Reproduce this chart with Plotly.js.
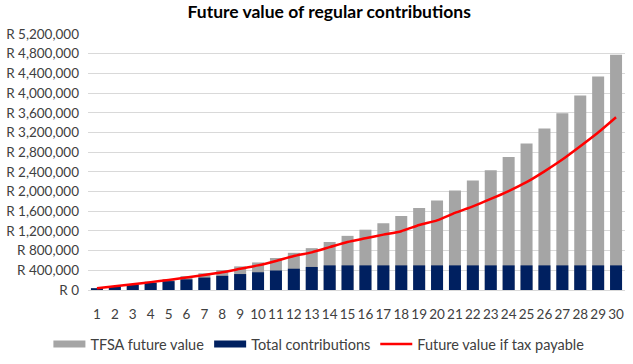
<!DOCTYPE html>
<html>
<head>
<meta charset="utf-8">
<script src="https://cdn.plot.ly/plotly-3.0.1.min.js"></script>
<style>html,body{margin:0;padding:0;background:#fff;}#chart{width:633px;height:364px;}</style>
</head>
<body>
<div id="chart"></div>
<script>
const years = [1,2,3,4,5,6,7,8,9,10,11,12,13,14,15,16,17,18,19,20,21,22,23,24,25,26,27,28,29,30];
const tfsaFutureValue = [37000,78000,122000,170000,222000,282000,340000,405000,480000,560000,650000,755000,850000,975000,1100000,1225000,1355000,1505000,1665000,1820000,2020000,2225000,2430000,2700000,2975000,3280000,3590000,3950000,4335000,4780000];
const totalContributions = [36000,72000,108000,144000,180000,216000,252000,288000,324000,360000,396000,432000,468000,500000,500000,500000,500000,500000,500000,500000,500000,500000,500000,500000,500000,500000,500000,500000,500000,500000];
const futureValueIfTaxPayable = [36000,75000,115000,160000,205000,255000,305000,360000,430000,500000,590000,690000,765000,870000,975000,1050000,1125000,1195000,1320000,1415000,1565000,1700000,1850000,2010000,2190000,2410000,2650000,2920000,3200000,3510000];
const seriesNames = ["TFSA future value","Total contributions","Future value if tax payable"];
const yTicks = [0,400000,800000,1200000,1600000,2000000,2400000,2800000,3200000,3600000,4000000,4400000,4800000,5200000];
const yTickText = yTicks.map(v => "R " + v.toLocaleString("en-US"));

const GRAY = "#a5a5a5", NAVY = "#002060", RED = "#ff0000";
const FONT = "Lato, 'Open Sans', sans-serif";

const traces = [
  {type:"bar", x:years, y:tfsaFutureValue, name:seriesNames[0], marker:{color:GRAY}, showlegend:false, hoverinfo:"skip"},
  {type:"bar", x:years, y:totalContributions, name:seriesNames[1], marker:{color:NAVY}, showlegend:false, hoverinfo:"skip"},
  {type:"scatter", mode:"lines", x:years, y:futureValueIfTaxPayable, name:seriesNames[2], line:{color:RED, width:2.5, shape:"spline", smoothing:0.6}, showlegend:false},
  // legend proxies (no data)
  {type:"scatter", mode:"lines", x:[null], y:[null], name:seriesNames[0], line:{color:GRAY, width:7}},
  {type:"scatter", mode:"lines", x:[null], y:[null], name:seriesNames[1], line:{color:NAVY, width:7}},
  {type:"scatter", mode:"lines", x:[null], y:[null], name:seriesNames[2], line:{color:RED, width:2.5}}
];

const layout = {
  width:633, height:364,
  margin:{l:88, r:8, t:34, b:74},
  paper_bgcolor:"#fff", plot_bgcolor:"#fff",
  font:{family:FONT, size:14, color:"#404040"},
  title:{text:"<b>Future value of regular contributions</b>", x:0.52, xanchor:"center", y:0.985, yanchor:"top", font:{family:FONT, size:17.5, color:"#000"}},
  barmode:"overlay", bargap:0.33,
  xaxis:{type:"category", tickvals:years, ticktext:years.map(String), showgrid:false, showline:true, linecolor:"#d9d9d9", linewidth:1, ticks:"", ticklabelstandoff:12, tickfont:{size:13.5, color:"#404040"}, fixedrange:true, automargin:false},
  yaxis:{range:[0,5200000], tickvals:yTicks, ticktext:yTickText, showgrid:true, gridcolor:"#d9d9d9", gridwidth:1, zeroline:false, showline:false, ticks:"", ticklabelstandoff:8, tickfont:{size:13.5, color:"#404040"}, fixedrange:true, automargin:false},
  legend:{orientation:"h", x:0.43, xanchor:"center", yref:"container", y:0.055, yanchor:"middle", font:{size:14.5, color:"#404040"}, itemwidth:32, traceorder:"normal"},
  showlegend:true
};

Plotly.newPlot("chart", traces, layout, {displayModeBar:false, staticPlot:true});
</script>
</body>
</html>
